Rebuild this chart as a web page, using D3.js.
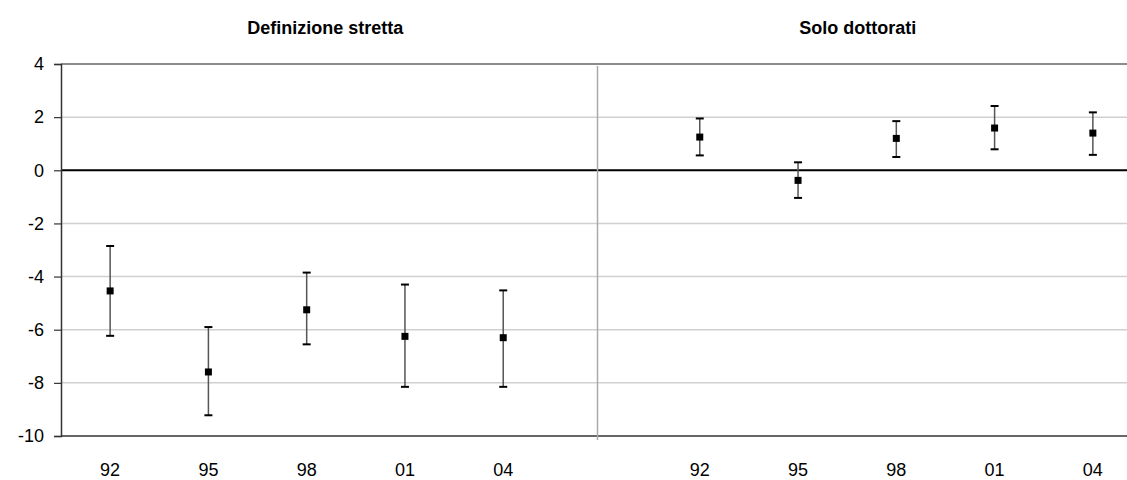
<!DOCTYPE html>
<html>
<head>
<meta charset="utf-8">
<script src="https://cdn.jsdelivr.net/npm/d3@7"></script>
<style>
	body { margin: 0; background: #fff; }
	text { font-family: "Liberation Sans", Arial, sans-serif; }
</style>
</head>
<body>
<svg id="chart" width="1127" height="480"></svg>
<script>
// categories: two panels separated by an empty slot
const categories = ["92a", "95a", "98a", "01a", "04a", "gap", "92b", "95b", "98b", "01b", "04b"];
const tickLabels = ["92", "95", "98", "01", "04", "", "92", "95", "98", "01", "04"];
const panelTitles = ["Definizione stretta", "Solo dottorati"];
const yTicks = [4, 2, 0, -2, -4, -6, -8, -10];

// point estimates and confidence bounds
const pointCats = ["92a", "95a", "98a", "01a", "04a", "92b", "95b", "98b", "01b", "04b"];
const estimate = [-4.54, -7.59, -5.25, -6.25, -6.30, 1.25, -0.38, 1.20, 1.59, 1.40];
const upper    = [-2.85, -5.90, -3.85, -4.30, -4.52, 1.95, 0.30, 1.85, 2.42, 2.18];
const lower    = [-6.23, -9.22, -6.55, -8.15, -8.15, 0.56, -1.04, 0.50, 0.79, 0.58];

const svg = d3.select("#chart");

const plotLeft = 61, plotRight = 1142, plotTop = 64, plotBottom = 436;

const x = d3.scaleBand()
	.domain(categories)
	.range([plotLeft, plotRight]);
const y = d3.scaleLinear()
	.domain([-10, 4])
	.range([plotBottom, plotTop]);

// gridlines
svg.selectAll(".grid")
	.data(yTicks)
	.enter().append("line")
		.attr("class", "grid")
		.attr("x1", plotLeft)
		.attr("x2", 1127)
		.attr("y1", d => y(d))
		.attr("y2", d => y(d))
		.attr("stroke", d => d == 0 ? "#000" : d == 4 ? "#666" : d == -10 ? "#333" : "#d0d0d0")
		.attr("stroke-width", d => d == 0 ? 2 : 1.5);

// panel divider
const divX = x("gap") + x.bandwidth() / 2 - 4;
svg.append("line")
	.attr("x1", divX)
	.attr("x2", divX)
	.attr("y1", y(4) + 2)
	.attr("y2", y(-10) + 4)
	.attr("stroke", "#aaa")
	.attr("stroke-width", 1.5);

// y axis
const yAxis = svg.append("g")
	.attr("transform", "translate(" + plotLeft + ",0)")
	.call(d3.axisLeft(y).tickValues(yTicks).tickSize(7).tickPadding(10).tickFormat(d => String(d)));
yAxis.select(".domain").attr("stroke", "#333").attr("stroke-width", 1.5);
yAxis.selectAll(".tick line").attr("stroke", "#333").attr("stroke-width", 1.2);
yAxis.selectAll("text")
	.attr("font-size", 18)
	.attr("font-family", "Liberation Sans, Arial, sans-serif")
	.attr("fill", "#000");

// x labels
svg.selectAll(".xlab")
	.data(categories)
	.enter().append("text")
		.attr("class", "xlab")
		.attr("x", d => x(d) + x.bandwidth() / 2)
		.attr("y", 476)
		.attr("text-anchor", "middle")
		.attr("font-size", 18)
		.text((d, i) => tickLabels[i]);

// panel titles
const titleX = [(plotLeft + divX) / 2 - 4, (divX + plotRight) / 2 - 12];
svg.selectAll(".title")
	.data(panelTitles)
	.enter().append("text")
		.attr("class", "title")
		.attr("x", (d, i) => titleX[i])
		.attr("y", 34)
		.attr("text-anchor", "middle")
		.attr("font-size", 18)
		.attr("font-weight", "bold")
		.text(d => d);

// error bars
const cx = d => x(d) + x.bandwidth() / 2;
const bars = svg.selectAll(".err")
	.data(pointCats)
	.enter().append("g")
		.attr("class", "err");
bars.append("line")
	.attr("x1", d => cx(d))
	.attr("x2", d => cx(d))
	.attr("y1", (d, i) => y(upper[i]))
	.attr("y2", (d, i) => y(lower[i]))
	.attr("stroke", "#555")
	.attr("stroke-width", 1.5);
bars.append("line")
	.attr("x1", d => cx(d) - 4)
	.attr("x2", d => cx(d) + 4)
	.attr("y1", (d, i) => y(upper[i]))
	.attr("y2", (d, i) => y(upper[i]))
	.attr("stroke", "#000")
	.attr("stroke-width", 2);
bars.append("line")
	.attr("x1", d => cx(d) - 4)
	.attr("x2", d => cx(d) + 4)
	.attr("y1", (d, i) => y(lower[i]))
	.attr("y2", (d, i) => y(lower[i]))
	.attr("stroke", "#000")
	.attr("stroke-width", 2);
bars.append("rect")
	.attr("x", d => cx(d) - 3.5)
	.attr("y", (d, i) => y(estimate[i]) - 3.5)
	.attr("width", 7)
	.attr("height", 7)
	.attr("fill", "#000");
</script>
</body>
</html>
